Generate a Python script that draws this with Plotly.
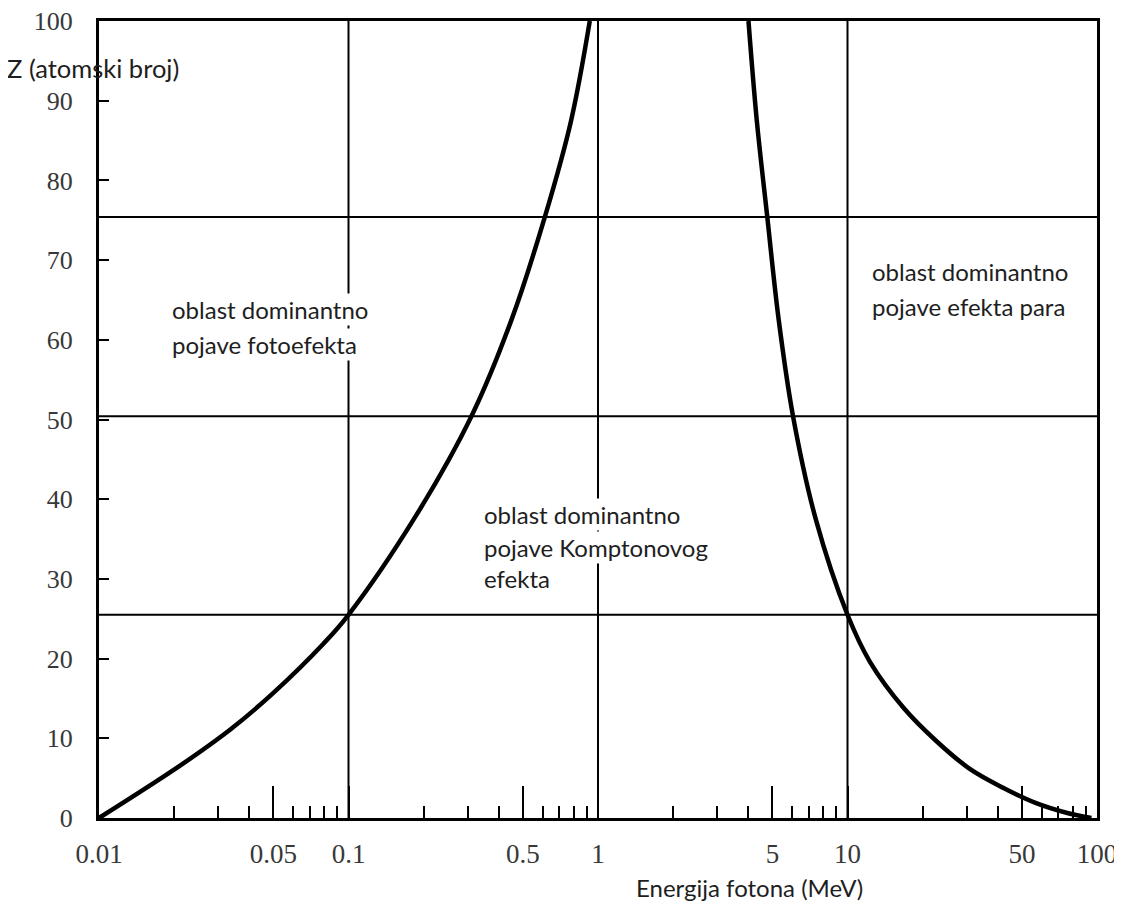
import plotly.graph_objects as go

# ---- data ----
photo_compton_E = [0.01, 0.0212, 0.0336, 0.05, 0.0795, 0.1, 0.187, 0.311, 0.45, 0.612, 0.78, 0.927]
photo_compton_Z = [0, 6.6, 11.1, 15.7, 21.9, 25.5, 38.0, 50.4, 62.5, 75.4, 87.5, 100]

compton_pair_E = [4.01, 4.33, 4.77, 5.3, 6.05, 7.46, 10.0, 12.3, 16.8, 22.8, 30.8, 42, 56.7, 76.7, 95]
compton_pair_Z = [100, 87.5, 75.4, 62.5, 50.4, 37.5, 25.5, 19.6, 13.8, 9.6, 6.2, 3.8, 1.9, 0.6, 0.0]

x_tick_vals = [0.01, 0.05, 0.1, 0.5, 1, 5, 10, 50, 100]
x_tick_text = ["0.01", "0.05", "0.1", "0.5", "1", "5", "10", "50", "100"]
x_minor_vals = [0.02, 0.03, 0.04, 0.06, 0.07, 0.08, 0.09,
                0.2, 0.3, 0.4, 0.6, 0.7, 0.8, 0.9,
                2, 3, 4, 6, 7, 8, 9,
                20, 30, 40, 60, 70, 80, 90]
y_tick_vals = [0, 10, 20, 30, 40, 50, 60, 70, 80, 90, 100]
grid_E = [0.1, 1, 10]
grid_Z = [25.5, 50.4, 75.4]

# region label lines: (text, x_paper, y_paper)
region_lines = [
    ("oblast dominantno", 0.0711, 0.6374),
    ("pojave fotoefekta", 0.0711, 0.5935),
    ("oblast dominantno", 0.3838, 0.3802),
    ("pojave Komptonovog", 0.3838, 0.3400),
    ("efekta", 0.3838, 0.3011),
    ("oblast dominantno", 0.7725, 0.6851),
    ("pojave efekta para", 0.7725, 0.6412),
]

fig = go.Figure()

for E, Z in [(photo_compton_E, photo_compton_Z), (compton_pair_E, compton_pair_Z)]:
    fig.add_trace(go.Scatter(x=E, y=Z, mode="lines",
                             line=dict(color="black", width=4.5, shape="spline", smoothing=1.0),
                             showlegend=False, hoverinfo="skip"))

shapes = []
for e in grid_E:
    shapes.append(dict(type="line", xref="x", yref="paper", x0=e, x1=e, y0=0, y1=1,
                       line=dict(color="black", width=2), layer="below"))
for z in grid_Z:
    shapes.append(dict(type="line", xref="paper", yref="y", x0=0, x1=1, y0=z, y1=z,
                       line=dict(color="black", width=2), layer="below"))

serif = "Liberation Serif"
sans = "Lato"
txt_color = "#1e1e1e"

annotations = []
for txt, ax, ay in region_lines:
    annotations.append(dict(text=txt, x=ax, y=ay, xref="paper", yref="paper",
                            xanchor="left", yanchor="middle", align="left", showarrow=False,
                            bgcolor="white", borderpad=1,
                            font=dict(family=sans, size=24, color=txt_color)))
annotations.append(dict(text="Z (atomski broj)", x=-0.0942, y=0.941, xref="paper", yref="paper",
                        xanchor="left", yanchor="middle", showarrow=False,
                        font=dict(family=sans, size=25.5, color=txt_color)))
annotations.append(dict(text="Energija fotona (MeV)", x=0.652, y=-0.0878, xref="paper", yref="paper",
                        xanchor="center", yanchor="middle", showarrow=False,
                        font=dict(family=sans, size=24, color=txt_color)))

# the page body adds an 8px offset; size the figure so the plot area lands where the reference has it
fig.update_layout(
    width=1114, height=897,
    margin=dict(l=91, r=25, t=13, b=87, autoexpand=False),
    paper_bgcolor="white", plot_bgcolor="white",
    shapes=shapes, annotations=annotations,
    xaxis=dict(type="log", range=[-2, 2], showgrid=False, zeroline=False, automargin=False,
               showline=True, linecolor="black", linewidth=3, mirror=True,
               tickvals=x_tick_vals, ticktext=x_tick_text,
               ticks="inside", ticklen=32, tickwidth=2, tickcolor="black",
               ticklabelstandoff=10, ticklabeloverflow="allow",
               minor=dict(tickvals=x_minor_vals, ticks="inside", ticklen=12,
                          tickwidth=2, tickcolor="black", showgrid=False),
               tickfont=dict(family=serif, size=27, color="#383838")),
    yaxis=dict(range=[0, 100], showgrid=False, zeroline=False, automargin=False,
               showline=True, linecolor="black", linewidth=3, mirror=True,
               tickvals=y_tick_vals,
               ticks="inside", ticklen=10, tickwidth=2, tickcolor="black",
               ticklabelstandoff=18, ticklabeloverflow="allow",
               tickfont=dict(family=serif, size=26, color="#383838")),
)

fig.write_html("out.html")
